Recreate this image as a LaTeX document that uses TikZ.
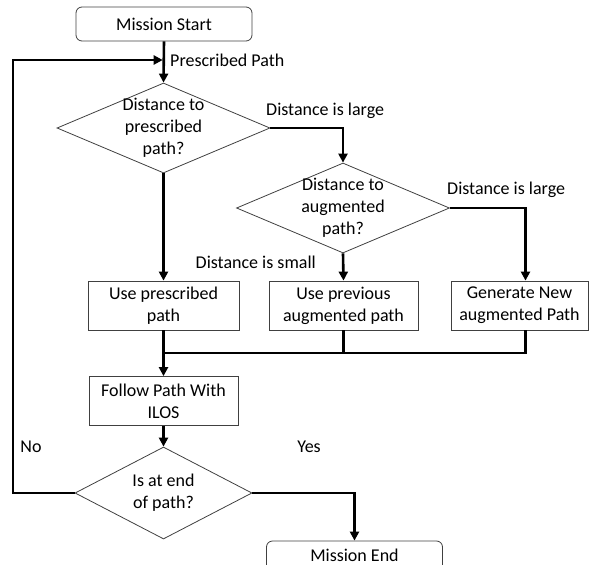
\documentclass[tikz,border=0pt]{standalone}
\usepackage{fontspec}
\setmainfont{Carlito}
\usetikzlibrary{shapes.geometric}
\usetikzlibrary{arrows.meta}
\usetikzlibrary{calc}

\begin{document}
\begin{tikzpicture}[x=1pt, y=-1pt, font=\fontsize{18}{22}\selectfont]
	\tikzstyle{terminal} = [rectangle, rounded corners=6pt, draw=black!75, line width=0.8pt, minimum width=176pt, minimum height=34pt, inner sep=0pt]
	\tikzstyle{process} = [rectangle, draw=black!75, line width=0.8pt, minimum height=49pt, inner sep=0pt, align=center]
	\tikzstyle{decision} = [diamond, draw=black!75, line width=0.8pt, inner sep=0pt]
	\tikzstyle{dtext} = [align=center, inner sep=0pt]
	\tikzstyle{tag} = [inner sep=0pt]
	\tikzstyle{flow} = [line width=2.6pt, -{Triangle[length=9pt, width=9pt]}]
	\tikzstyle{wire} = [line width=2.6pt]

	\useasboundingbox (0,0) rectangle (590,565);

	\node[terminal] (start) at (164,24) {Mission Start};
	\node[decision, minimum width=213pt, minimum height=90pt, label={[dtext]center:Distance to\\prescribed\\path?}] (d1) at (163.5,128) {};
	\node[decision, minimum width=213pt, minimum height=90pt, label={[dtext]center:Distance to\\augmented\\path?}] (d2) at (343,208) {};
	\node[process, minimum width=151pt] (b1) at (163.5,305.5) {Use prescribed\\path};
	\node[process, minimum width=149pt] (b2) at (343.5,305.5) {Use previous\\augmented path};
	\node[process, minimum width=137pt] (b3) at (519.5,305.5) {Generate New\\augmented Path};
	\node[process, minimum width=149pt] (follow) at (163.5,401) {Follow Path With\\ILOS};
	\node[decision, minimum width=177pt, minimum height=92pt, label={[dtext]center:Is at end\\of path?}] (d3) at (163.5,493) {};
	\node[terminal, text depth=6pt] (stop) at (354.5,558) {Mission End};

	\node[tag, anchor=west] (lpath) at (170,60) {Prescribed Path};
	\node[tag, anchor=west] (llarge1) at (266,111) {Distance is large};
	\node[tag, anchor=west] (llarge2) at (447,190) {Distance is large};
	\node[tag, anchor=east] (lsmall) at (316,262) {Distance is small};
	\node[tag] (lno) at (31,447) {No};
	\node[tag] (lyes) at (309,447) {Yes};

	\coordinate (loop) at (13,60);
	\coordinate (join1) at (start.south |- loop);
	\coordinate (join2) at (163.5,353);

	\draw[flow] (start.south) -- (d1.north);
	\draw[flow] (d3.west) -| (loop) -- ([xshift=-1.3pt]join1);
	\draw[flow] (d1.east) -| (d2.north);
	\draw[flow] (d2.east) -| ([xshift=6pt]b3.north);
	\draw[flow] (d1.south) -- (b1.north);
	\draw[flow] (d2.south) -- (b2.north);
	\draw[flow] (b1.south) -- (follow.north);
	\draw[wire] (b2.south) |- (join2);
	\draw[wire] ([xshift=6pt]b3.south) |- (join2);
	\draw[flow] (follow.south) -- (d3.north);
	\draw[flow] (d3.east) -| (stop.north);
\end{tikzpicture}
\end{document}
